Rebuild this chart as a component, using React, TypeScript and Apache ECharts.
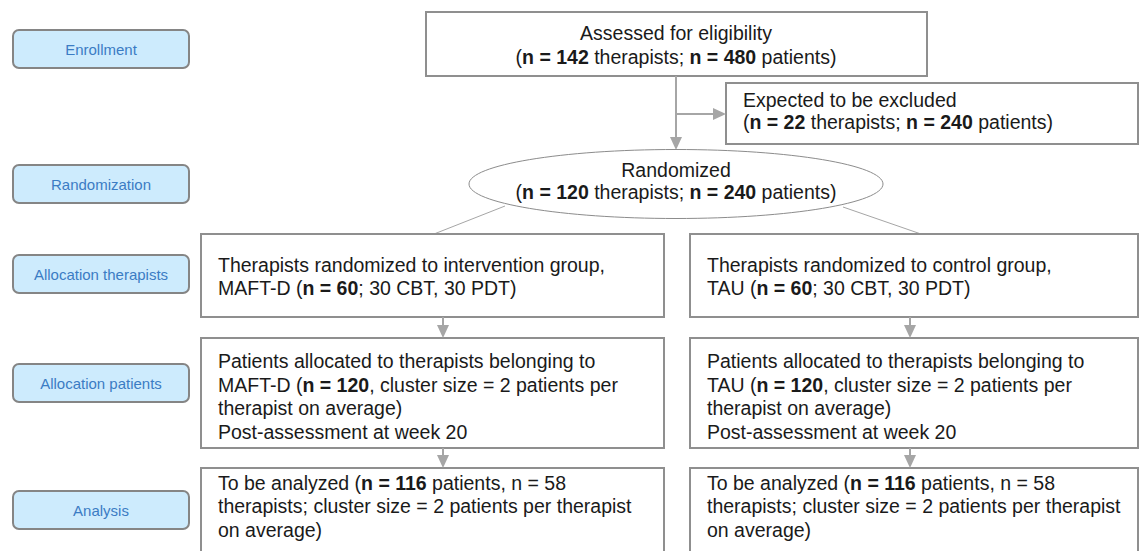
import React, { useEffect, useRef } from "react";
import * as echarts from "echarts";

// ---- data ----
const stageLabels = ["Enrollment", "Randomization", "Allocation therapists", "Allocation patients", "Analysis"];
const assessedN = [142, 480]; // therapists, patients
const excludedN = [22, 240];
const randomizedN = [120, 240];
const armNames = ["MAFT-D", "TAU"];
const armGroups = ["intervention", "control"];
const armTherapists = [60, 60];
const armCBT = [30, 30];
const armPDT = [30, 30];
const armPatients = [120, 120];
const clusterSize = [2, 2];
const postWeek = [20, 20];
const analyzedPatients = [116, 116];
const analyzedTherapists = [58, 58];

const FF = "'Liberation Sans', Arial, Helvetica, sans-serif";
const FS = 19.5;
const LH = 23.5;
const TXT = "#1a1a1a";
const BOX = "#8f8f8f";
const ARW = "#a6a6a6";

function richText(x: number, y: number, text: string, align: string, lh = LH) {
  const base = { fontSize: FS, fontFamily: FF, fill: TXT, lineHeight: lh };
  return {
    type: "text",
    x,
    y,
    z: 10,
    style: {
      text,
      ...base,
      align,
      verticalAlign: "middle",
      textAlign: align,
      textVerticalAlign: "middle",
      rich: {
        b: { ...base, fontWeight: "bold" },
      },
    },
  };
}

function box(x: number, y: number, w: number, h: number) {
  return {
    type: "rect",
    z: 2,
    shape: { x, y, width: w, height: h },
    style: { fill: "#ffffff", stroke: BOX, lineWidth: 2 },
  };
}

function vArrow(x: number, y1: number, y2: number) {
  return [
    { type: "line", z: 3, shape: { x1: x, y1, x2: x, y2: y2 - 10 }, style: { stroke: ARW, lineWidth: 2 } },
    { type: "polygon", z: 3, shape: { points: [[x - 6, y2 - 13], [x + 6, y2 - 13], [x, y2]] }, style: { fill: ARW } },
  ];
}

function hArrow(y: number, x1: number, x2: number) {
  return [
    { type: "line", z: 3, shape: { x1, y1: y, x2: x2 - 10, y2: y }, style: { stroke: ARW, lineWidth: 2 } },
    { type: "polygon", z: 3, shape: { points: [[x2 - 13, y - 6], [x2 - 13, y + 6], [x2, y]] }, style: { fill: ARW } },
  ];
}

export default function App() {
  const ref = useRef<HTMLDivElement>(null);
  useEffect(() => {
    if (!ref.current) return;
    const chart = echarts.init(ref.current, undefined, { renderer: "svg" });

    const labelY = [30, 165, 255, 364, 491];
    const labels: any[] = [];
    stageLabels.forEach((s, i) => {
      labels.push({
        type: "rect",
        z: 2,
        shape: { x: 13, y: labelY[i], width: 176, height: 38, r: 6 },
        style: { fill: "#cdebfd", stroke: "#858585", lineWidth: 2 },
      });
      labels.push({
        type: "text",
        x: 101,
        y: labelY[i] + 19,
        z: 10,
        style: {
          text: s,
          fontSize: 15,
          fontFamily: FF,
          fill: "#3b7cc4",
          align: "center",
          verticalAlign: "middle",
          textAlign: "center",
          textVerticalAlign: "middle",
        },
      });
    });

    const colX = [201, 690];
    const colW = [463, 448];
    const arrowX = [443, 910];
    const arms: any[] = [];
    for (let i = 0; i < 2; i++) {
      arms.push(box(colX[i], 234, colW[i], 83));
      arms.push(
        richText(
          colX[i] + 17,
          276.5,
          `Therapists randomized to ${armGroups[i]} group,\n${armNames[i]} ({b|n = ${armTherapists[i]}}; ${armCBT[i]} CBT, ${armPDT[i]} PDT)`,
          "left"
        )
      );
      arms.push(...vArrow(arrowX[i], 317, 338));
      arms.push(box(colX[i], 338, colW[i], 110));
      const line2 =
        i === 0
          ? `${armNames[i]} ({b|n = ${armPatients[i]}}, cluster size = ${clusterSize[i]} patients per\ntherapist on average)`
          : `${armNames[i]} ({b|n = ${armPatients[i]}}, cluster size = ${clusterSize[i]} patients per\ntherapist on average)`;
      arms.push(
        richText(
          colX[i] + 17,
          396.5,
          `Patients allocated to therapists belonging to\n${line2}\nPost-assessment at week ${postWeek[i]}`,
          "left"
        )
      );
      arms.push(...vArrow(arrowX[i], 448, 468));
      arms.push(box(colX[i], 468, colW[i], 110));
      arms.push(
        richText(
          colX[i] + 17,
          506,
          `To be analyzed ({b|n = ${analyzedPatients[i]}} patients, n = ${analyzedTherapists[i]}\ntherapists; cluster size = ${clusterSize[i]} patients per therapist\non average)`,
          "left"
        )
      );
    }

    const graphic: any[] = [
      ...labels,
      box(426, 12, 501, 64),
      richText(676, 44.5, `Assessed for eligibility\n({b|n = ${assessedN[0]}} therapists; {b|n = ${assessedN[1]}} patients)`, "center", 24),
      ...vArrow(676, 76, 150),
      ...hArrow(114, 676, 726),
      box(726, 83, 412, 61),
      richText(743, 111, `Expected to be excluded\n({b|n = ${excludedN[0]}} therapists; {b|n = ${excludedN[1]}} patients)`, "left", 22.5),
      { type: "line", z: 1, shape: { x1: 505, y1: 206, x2: 434, y2: 234 }, style: { stroke: ARW, lineWidth: 1 } },
      { type: "line", z: 1, shape: { x1: 843, y1: 207, x2: 921, y2: 234 }, style: { stroke: ARW, lineWidth: 1 } },
      {
        type: "ellipse",
        z: 4,
        shape: { cx: 676, cy: 184, rx: 207, ry: 34.5 },
        style: { fill: "#ffffff", stroke: "#8c8c8c", lineWidth: 1 },
      },
      richText(676, 181, `Randomized\n({b|n = ${randomizedN[0]}} therapists; {b|n = ${randomizedN[1]}} patients)`, "center", 21.5),
      ...arms,
    ];

    chart.setOption({
      animation: false,
      backgroundColor: "#ffffff",
      graphic: { elements: graphic },
    });
    return () => chart.dispose();
  }, []);

  return (
    <div
      ref={ref}
      style={{ position: "fixed", left: 0, top: 0, width: 1140, height: 551, background: "#fff" }}
    />
  );
}
